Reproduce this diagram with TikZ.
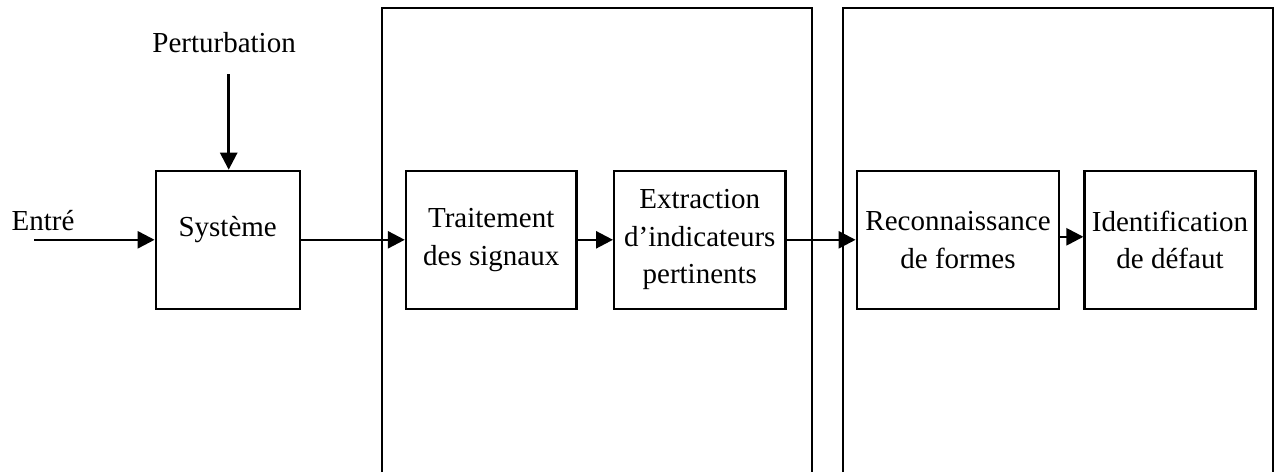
\documentclass[tikz,border=0pt]{standalone}
\usepackage{fontspec}
\setmainfont{Liberation Serif}
\usetikzlibrary{positioning,arrows.meta}

\begin{document}
\begin{tikzpicture}[
    x=0.5pt, y=-0.5pt,
    >={Triangle[length=8.5pt,width=8.5pt]},
    block/.style={draw, rectangle, line width=1.1pt, minimum height=69pt, inner sep=2pt, align=center},
    frame/.style={draw, line width=1pt},
    every node/.style={font=\fontsize{14.5}{18.75}\selectfont}
]
\useasboundingbox (0,0) rectangle (1278,472);

% Frames
\draw[frame] (382,472) -- (382,8) -- (812,8) -- (812,472);
\draw[frame] (843,472) -- (843,8) -- (1273,8) -- (1273,472);

% Process
\node[block, minimum width=72pt, text depth=13pt] (sys) at (227.7,239.8) {Système};
\node[above=0pt of sys, yshift=55pt, xshift=-1.8pt] (pert) {Perturbation};
\coordinate (pertin) at (228.7,74);
\node (entre) at (43,221) {Entré};
\coordinate (in) at (34,239.8);

% Signal processing
\node[block, right=52pt of sys, minimum width=85.3pt] (trait) {Traitement\\des signaux};
\node[block, right=17.7pt of trait, minimum width=85.7pt] (extr) {Extraction\\d’indicateurs\\pertinents};

% Diagnosis
\node[block, right=34.5pt of extr, minimum width=101.3pt] (reco) {Reconnaissance\\de formes};
\node[block, right=11.5pt of reco, minimum width=85.5pt] (ident) {Identification\\de défaut};

% Connections
\draw[->, line width=1.3pt] (in) -- (in -| sys.west);
\draw[->, line width=1.3pt] (pertin) -- (pertin |- sys.north);
\draw[->, line width=1.3pt] (sys) -- (trait);
\draw[->, line width=1.3pt] (trait) -- (extr);
\draw[->, line width=1.3pt] (extr) -- (reco);
\draw[->, line width=1.3pt] ([yshift=1.5pt]reco.east) -- ([yshift=1.5pt]ident.west);

\end{tikzpicture}
\end{document}
